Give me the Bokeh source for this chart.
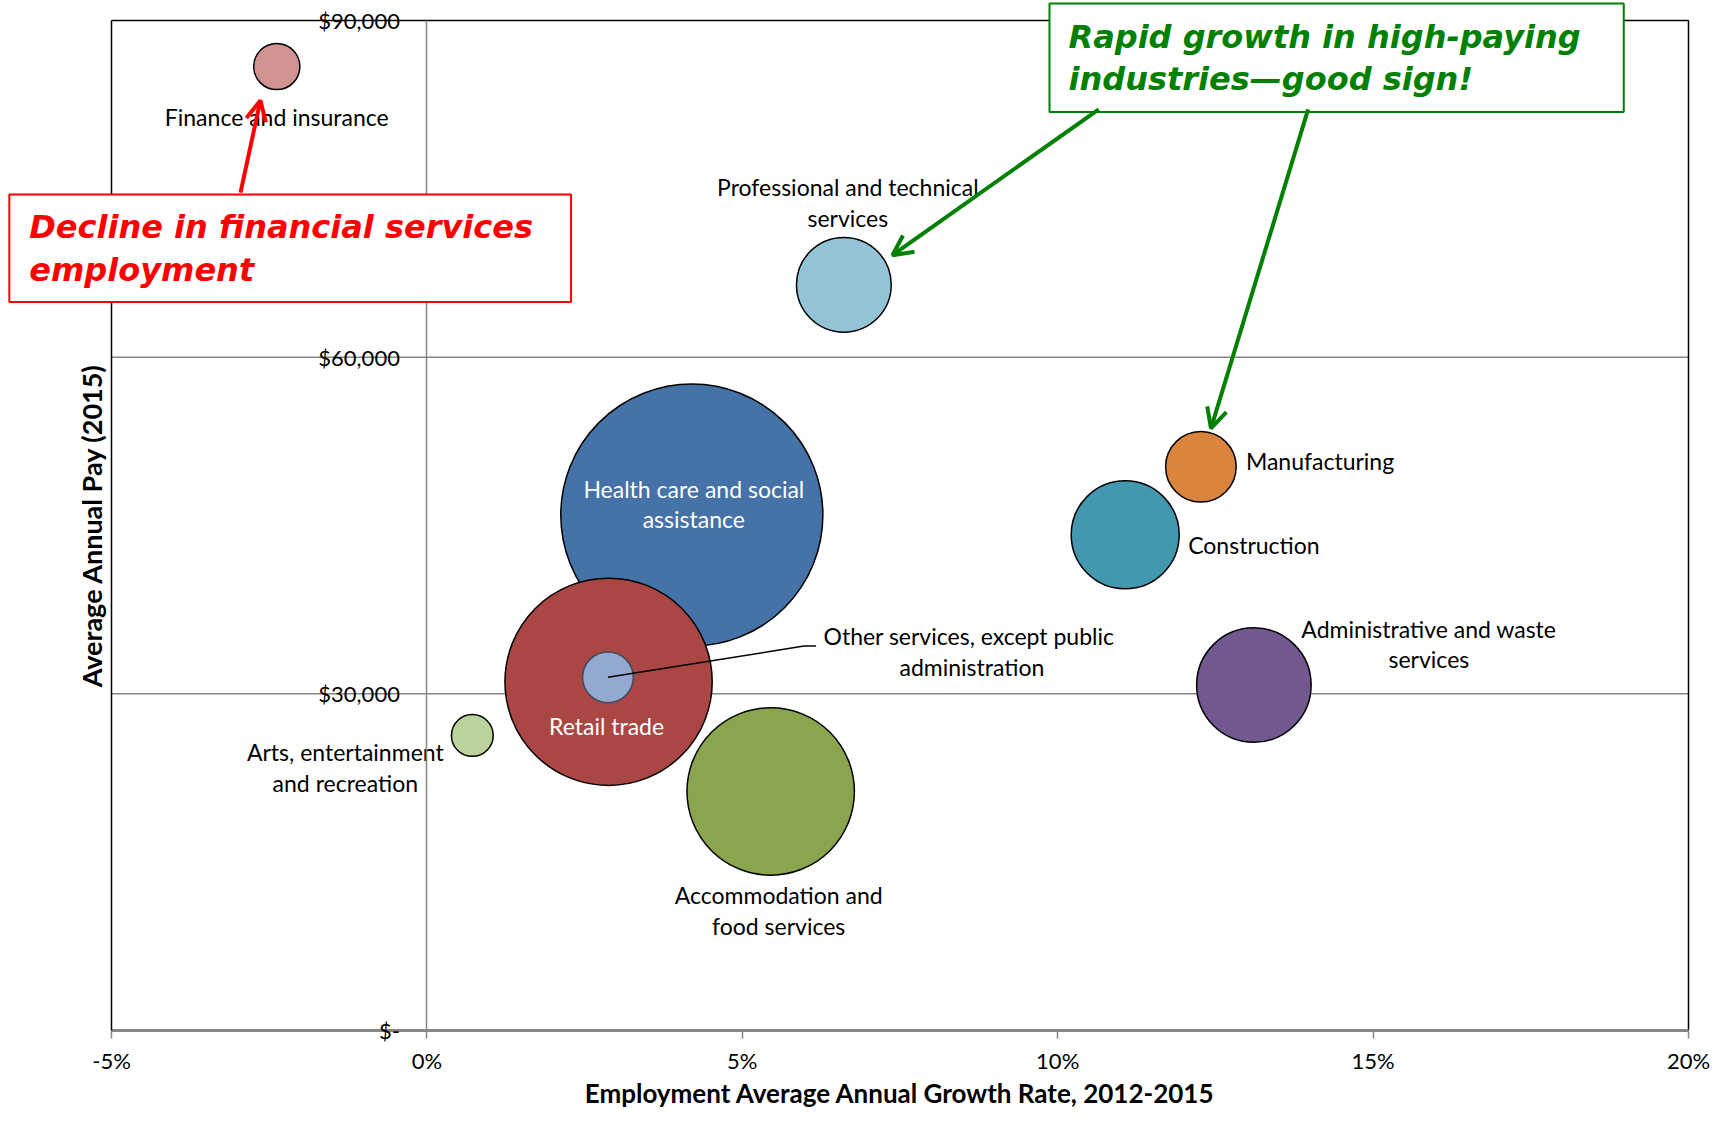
from bokeh.plotting import figure
from bokeh.models import (Range1d, LinearAxis, FixedTicker, PrintfTickFormatter, Grid,
                          Label, Arrow, OpenHead, ColumnDataSource)
from bokeh.core.properties import value
from bokeh.embed import file_html
from bokeh.resources import INLINE

# ---------------- data ----------------
industries = [
    "Finance and insurance",
    "Professional and technical services",
    "Health care and social assistance",
    "Retail trade",
    "Other services, except public administration",
    "Arts, entertainment and recreation",
    "Accommodation and food services",
    "Manufacturing",
    "Construction",
    "Administrative and waste services",
]
growth_pct = [-2.38, 6.61, 4.20, 2.88, 2.87, 0.72, 5.45, 12.27, 11.07, 13.11]
avg_pay = [85900, 66450, 45930, 31075, 31470, 26290, 21300, 50230, 44170, 30780]
employment = [880, 3700, 28300, 17700, 1060, 720, 11550, 2050, 4800, 5400]

label_text = [
    "Finance and insurance",
    "Professional and technical\nservices",
    "Health care and social\nassistance",
    "Retail trade",
    "Other  services, except public\nadministration",
    "Arts, entertainment\nand recreation",
    "Accommodation and\nfood services",
    "Manufacturing",
    "Construction",
    "Administrative and waste\nservices",
]

x_ticks = [-5, 0, 5, 10, 15, 20]
y_ticks = [0, 30000, 60000, 90000]
y_tick_labels = ["$-", "$30,000", "$60,000", "$90,000"]

x_title = "Employment Average Annual Growth Rate, 2012-2015"
y_title = "Average Annual Pay (2015)"
red_note = "Decline in financial services\nemployment"
green_note = "Rapid growth in high-paying\nindustries\u2014good sign!"

# ---------------- styles / layout ----------------
fill_colors = ["#D19392", "#93C3D6", "#4572A7", "#AA4643", "#93A9CF",
               "#B9D39A", "#89A54E", "#DB843D", "#4198AF", "#71588F"]
line_colors = ["black"] * 10
line_colors[4] = "#3E4A5E"
label_colors = ["black", "black", "white", "white", "black",
                "black", "black", "black", "black", "black"]
label_align = ["center", "center", "center", "center", "center",
               "center", "center", "left", "left", "center"]
label_dx = [0, 4, 2, -2, 364, -127, 8, 45, 63, 175]
label_dy = [50, -82, -11, 44, -26, 32, 119, -6, 10, -41]
SIZE_K = 1.558

FONT = "Lato"
NOTE_FONT = "DejaVu Sans"
GRAY = "#868686"

# canvas geometry (pixels): figure size and where the plot area sits inside it
W, H = 1713, 1110
PL, PR, PT, PB = 111, 1688, 20, 1030
x_per_px = (x_ticks[-1] - x_ticks[0]) / (PR - PL)
y_per_px = (y_ticks[-1] - y_ticks[0]) / (PB - PT)
x_lo = x_ticks[0] - PL * x_per_px
x_hi = x_ticks[-1] + (W - PR) * x_per_px
y_hi = y_ticks[-1] + PT * y_per_px
y_lo = y_ticks[0] - (H - PB) * y_per_px

order = sorted(range(len(industries)), key=lambda i: -employment[i])

def pick(lst):
    return [lst[i] for i in order]

src = ColumnDataSource(dict(
    x=pick(growth_pct), y=pick(avg_pay),
    size=[SIZE_K * employment[i] ** 0.5 for i in order],
    fill=pick(fill_colors), line=pick(line_colors),
    label=pick(label_text), lc=pick(label_colors), la=pick(label_align),
    dx=pick(label_dx), dy=pick(label_dy),
))

p = figure(frame_width=W, frame_height=H, min_border=0,
           x_range=Range1d(x_lo, x_hi), y_range=Range1d(y_lo, y_hi),
           x_axis_location=None, y_axis_location=None,
           output_backend="svg", toolbar_location=None,
           background_fill_color="white", border_fill_color="white")
p.outline_line_color = None
for r in list(p.center):
    if isinstance(r, Grid):
        r.visible = False

# horizontal gridlines across the plot area only
grid_y = y_ticks[1:-1]
p.segment(x0=[x_ticks[0]] * len(grid_y), y0=grid_y, x1=[x_ticks[-1]] * len(grid_y), y1=grid_y,
          line_color=GRAY, line_width=1.5)

# top and right border of the plot area
p.line([x_ticks[0], x_ticks[-1], x_ticks[-1]], [y_ticks[-1], y_ticks[-1], y_ticks[0]],
       line_color="black", line_width=1.5)

# left border axis carrying the y title
title_axis = LinearAxis(fixed_location=x_ticks[0], bounds=(y_ticks[0], y_ticks[-1]),
                        ticker=FixedTicker(ticks=[]), axis_label=y_title,
                        axis_line_color="black", axis_line_width=1.5,
                        major_tick_line_color=None, minor_tick_line_color=None,
                        axis_label_standoff=4,
                        axis_label_text_font=FONT, axis_label_text_font_style="bold",
                        axis_label_text_font_size="27px", axis_label_text_color="black")
p.add_layout(title_axis, "left")

# y tick axis crossing at x = 0
tick_axis = LinearAxis(fixed_location=0, bounds=(y_ticks[0], y_ticks[-1]),
                       ticker=FixedTicker(ticks=y_ticks),
                       major_label_overrides={t: l for t, l in zip(y_ticks, y_tick_labels)},
                       major_tick_in=0, major_tick_out=0, minor_tick_line_color=None,
                       axis_line_color=GRAY, axis_line_width=1.5,
                       major_label_standoff=27, major_label_text_font=FONT,
                       major_label_text_font_size="22px", major_label_text_color="black")
p.add_layout(tick_axis, "left")

# x axis at y = 0
xa = LinearAxis(fixed_location=0, bounds=(x_ticks[0], x_ticks[-1]),
                ticker=FixedTicker(ticks=x_ticks),
                formatter=PrintfTickFormatter(format="%d%%"),
                axis_line_color=GRAY, axis_line_width=3,
                major_tick_out=8, major_tick_in=0,
                major_tick_line_color=GRAY, major_tick_line_width=1.5,
                minor_tick_line_color=None,
                major_label_standoff=8, major_label_text_font=FONT,
                major_label_text_font_size="22px", major_label_text_color="black",
                axis_label=x_title, axis_label_standoff=0,
                axis_label_text_font=FONT, axis_label_text_font_style="bold",
                axis_label_text_font_size="26px", axis_label_text_color="black")
p.add_layout(xa, "below")

# bubbles
p.scatter("x", "y", size="size", fill_color="fill", line_color="line", line_width=1.5,
          source=src)

# leader line for "Other services"
oi = industries.index("Other services, except public administration")
p.line([growth_pct[oi], 5.98, 6.17], [avg_pay[oi], 34260, 34260], line_color="black", line_width=1.5)

# bubble labels
p.text("x", "y", text="label", x_offset="dx", y_offset="dy", text_align="la",
       text_baseline="middle", text_color="lc", text_font=value(FONT),
       text_font_size="23px", text_line_height=1.1, source=src)

# annotations (padding: left, right, top, bottom)
p.add_layout(Label(x=-6.62, y=74500, text=red_note, anchor="top_left",
                   text_font=NOTE_FONT, text_font_style="bold italic", text_font_size="32px",
                   text_color="#FF0000", text_line_height=1.12,
                   background_fill_color="white", border_line_color="#FF0000",
                   border_line_width=2, padding=(20, 38, 14, 13)))
p.add_layout(Label(x=9.87, y=y_hi - 3 * y_per_px, text=green_note, anchor="top_left",
                   text_font=NOTE_FONT, text_font_style="bold italic", text_font_size="32px",
                   text_color="#008000", text_line_height=1.12,
                   background_fill_color="white", border_line_color="#008000",
                   border_line_width=2, padding=(19, 43, 14, 14)))

p.add_layout(Arrow(x_start=-2.955, y_start=74658, x_end=-2.64, y_end=82867,
                   line_color="#FF0000", line_width=4,
                   end=OpenHead(size=20, line_color="#FF0000", line_width=4)))
for xs, ys, xe, ye in [(10.65, 82085, 7.38, 69088), (13.97, 82085, 12.43, 53648)]:
    p.add_layout(Arrow(x_start=xs, y_start=ys, x_end=xe, y_end=ye,
                       line_color="#008000", line_width=4,
                       end=OpenHead(size=20, line_color="#008000", line_width=4)))

open("out.html", "w").write(file_html(p, INLINE))
